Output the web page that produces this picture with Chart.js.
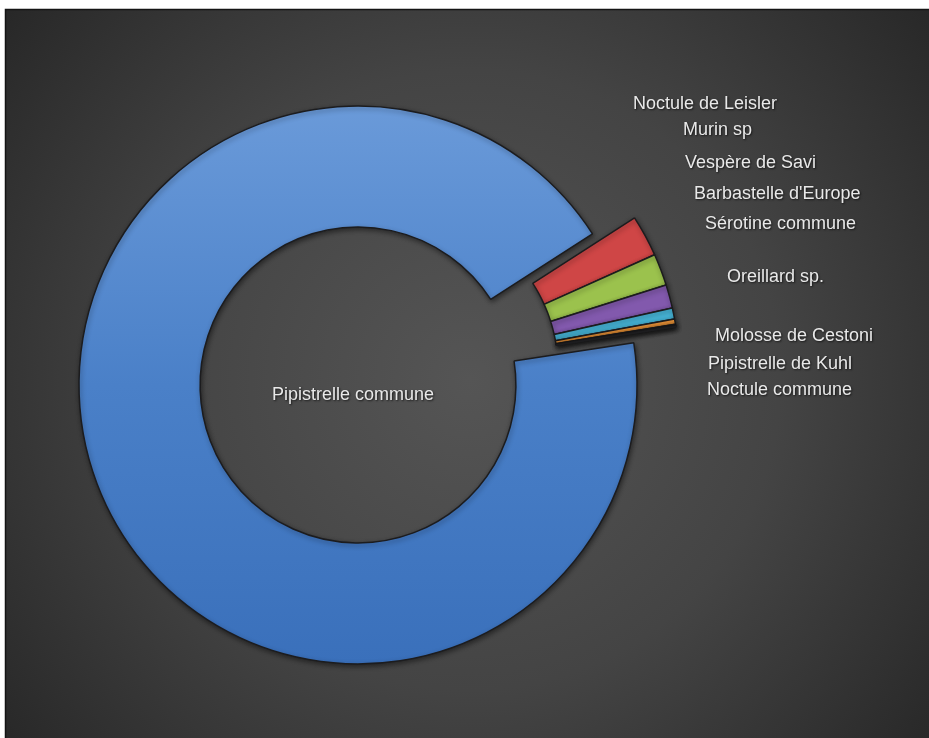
<!DOCTYPE html>
<html><head><meta charset="utf-8">
<script src="https://cdn.jsdelivr.net/npm/chart.js@4.4.1/dist/chart.umd.min.js"></script>
<style>html,body{margin:0;padding:0;background:#fff;overflow:hidden}#wrap{position:relative;width:929px;height:738px}</style>
</head><body><div id="wrap"><canvas id="c" width="929" height="738"></canvas></div>
<script>
// ---- data ----
const categories = ["Pipistrelle commune","Noctule de Leisler","Murin sp","Vespère de Savi","Barbastelle d'Europe","Sérotine commune","Oreillard sp.","Molosse de Cestoni","Pipistrelle de Kuhl","Noctule commune"];
const shares = [93.3, 2.4, 1.85, 1.35, 0.65, 0.3, 0.07, 0.03, 0.03, 0.02];

// ---- styles ----
const sliceColors = ['#4a80c8','#cf4646','#9bc24d','#8259ad','#46b3d5','#f3993b','#3f6ea8','#a33a38','#7f9e3f','#674b8a'];
const explodedGroup = [false,true,true,true,true,true,true,true,true,true];
const explodeDistance = 45;
// label placement relative to the doughnut centre (labels were manually placed in the original)
const labelPlacement = [
  {dx:-5, dy:10, align:'center'},
  {dx:275, dy:-281, align:'left'},
  {dx:325, dy:-255, align:'left'},
  {dx:327, dy:-222, align:'left'},
  {dx:336, dy:-191, align:'left'},
  {dx:347, dy:-161, align:'left'},
  {dx:369, dy:-108, align:'left'},
  {dx:357, dy:-49, align:'left'},
  {dx:350, dy:-21, align:'left'},
  {dx:349, dy:5, align:'left'}
];

const framePlugin = {
  id:'frame',
  beforeDraw(chart){
    const ctx = chart.ctx, W = chart.width, H = chart.height;
    ctx.save();
    ctx.fillStyle = '#ffffff';
    ctx.fillRect(0,0,W,H);
    const g = ctx.createRadialGradient(470,380,0,470,380,620);
    g.addColorStop(0,'#555555');
    g.addColorStop(0.5,'#444444');
    g.addColorStop(1,'#252525');
    ctx.fillStyle = g;
    ctx.fillRect(5,9,W-5,H-9);
    ctx.strokeStyle = '#141414';
    ctx.lineWidth = 1.5;
    ctx.strokeRect(5.5,9.5,W+10,H+10);
    ctx.restore();
  }
};

// draws the library's arc elements, moving the small slices outward together (exploded group)
const explodePlugin = {
  id:'explode',
  beforeDatasetDraw(chart, args){
    const els = args.meta.data;
    const ctx = chart.ctx;
    let gStart = null, gEnd = null;
    els.forEach((el,i)=>{
      if (explodedGroup[i]) {
        if (gStart === null) gStart = el.startAngle;
        gEnd = el.endAngle;
      }
    });
    const mid = (gStart + gEnd) / 2;
    ctx.save();
    ctx.shadowColor = 'rgba(0,0,0,0.45)';
    ctx.shadowBlur = 5;
    ctx.shadowOffsetX = 1;
    ctx.shadowOffsetY = 2;
    els.forEach((el,i)=>{
      ctx.save();
      if (explodedGroup[i]) ctx.translate(Math.cos(mid)*explodeDistance, Math.sin(mid)*explodeDistance);
      el.draw(ctx, chart.chartArea);
      ctx.restore();
    });
    ctx.restore();
    return false;
  }
};

const labelPlugin = {
  id:'labels',
  afterDraw(chart){
    const a = chart.getDatasetMeta(0).data[0];
    const cx = a.x, cy = a.y;
    const ctx = chart.ctx;
    ctx.save();
    ctx.font = '18px "Liberation Sans", Arial, sans-serif';
    ctx.textBaseline = 'middle';
    ctx.fillStyle = '#e9e9e9';
    ctx.shadowColor = 'rgba(0,0,0,0.65)';
    ctx.shadowBlur = 2;
    ctx.shadowOffsetX = 1;
    ctx.shadowOffsetY = 1;
    categories.forEach((name,i)=>{
      const p = labelPlacement[i];
      ctx.textAlign = p.align;
      ctx.fillText(name, cx + p.dx, cy + p.dy);
    });
    ctx.restore();
  }
};

function fillFor(c){
  const i = c.dataIndex;
  if (i === 0 && c.chart.chartArea) {
    const ctx = c.chart.ctx;
    const g = ctx.createLinearGradient(0,106,0,664);
    g.addColorStop(0,'#6a9ad9');
    g.addColorStop(0.5,'#4a80c8');
    g.addColorStop(1,'#3a70bb');
    return g;
  }
  return sliceColors[i];
}

new Chart(document.getElementById('c'), {
  type:'doughnut',
  data:{
    labels: categories,
    datasets:[{
      data: shares,
      backgroundColor: fillFor,
      borderColor: '#1c1c1e',
      borderWidth: 1.5,
      hoverOffset: 0
    }]
  },
  options:{
    responsive:false,
    animation:false,
    events:[],
    rotation:81.3,
    cutout:'56.6%',
    radius:279,
    layout:{padding:{left:0,right:213,top:32,bottom:0}},
    plugins:{legend:{display:false},tooltip:{enabled:false}}
  },
  plugins:[framePlugin, explodePlugin, labelPlugin]
});
</script>
</body></html>
